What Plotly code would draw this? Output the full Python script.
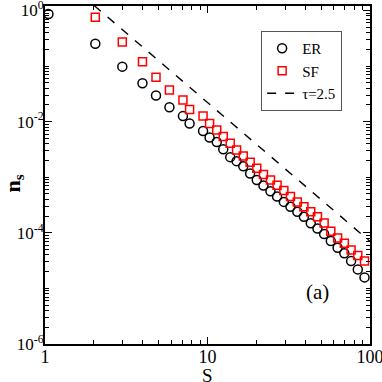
import plotly.graph_objects as go

# cluster sizes (log-binned centres)
s_er = [1.05, 2.04, 2.99, 3.98, 4.82, 5.83, 7.06, 7.76, 9.39, 10.3, 11.4, 12.5, 13.8, 15.1,
        16.6, 18.3, 20.1, 22.1, 24.4, 26.8, 29.5, 32.4, 35.7, 39.2, 43.2, 47.5, 52.2, 57.4,
        63.2, 69.5, 76.5, 84.1, 92.5]
n_er = [0.865, 0.253, 0.0977, 0.049, 0.0295, 0.0182, 0.0126, 0.0093, 0.0068, 0.0052, 0.0043,
        0.0032, 0.0023, 0.00195, 0.00158, 0.00117, 8.9e-4, 7.1e-4, 5.6e-4, 4.5e-4, 3.6e-4,
        2.95e-4, 2.4e-4, 1.95e-4, 1.48e-4, 1.2e-4, 9.5e-5, 7.1e-5, 5.4e-5, 4.3e-5, 3.1e-5,
        2.2e-5, 1.58e-5]

s_sf = [2.04, 2.99, 3.98, 4.82, 5.83, 7.06, 7.76, 9.39, 10.3, 11.4, 12.5, 13.8, 15.1,
        16.6, 18.3, 20.1, 22.1, 24.4, 26.8, 29.5, 32.4, 35.7, 39.2, 43.2, 47.5, 52.2, 57.4,
        63.2, 69.5, 76.5, 84.1, 92.5]
n_sf = [0.76, 0.27, 0.12, 0.063, 0.037, 0.0245, 0.0166, 0.0126, 0.0093, 0.0071, 0.0054,
        0.0041, 0.0031, 0.0024, 0.00186, 0.00145, 0.00112, 8.9e-4, 7.2e-4, 5.75e-4, 4.5e-4,
        3.6e-4, 2.95e-4, 2.4e-4, 1.95e-4, 1.51e-4, 1.07e-4, 8.1e-5, 6.5e-5, 4.9e-5, 3.9e-5,
        3.1e-5]

tau_s = [2.0, 100]
tau_n = [1.24, 7.0e-5]

y_tickvals = [1, 1e-2, 1e-4, 1e-6]
y_ticktext = ["10<sup>0</sup>", "10<sup>-2</sup>", "10<sup>-4</sup>", "10<sup>-6</sup>"]
x_tickvals = [1, 10, 100]
x_ticktext = ["1", "10", "100"]

FONT = "Liberation Serif"

fig = go.Figure()
fig.add_trace(go.Scatter(x=s_er, y=n_er, mode="markers", name="ER",
                         marker=dict(symbol="circle-open", size=9, color="black",
                                     line=dict(width=1.5, color="black"))))
fig.add_trace(go.Scatter(x=s_sf, y=n_sf, mode="markers", name="SF",
                         marker=dict(symbol="square-open", size=8, color="red",
                                     line=dict(width=1.5, color="red"))))
fig.add_trace(go.Scatter(x=tau_s, y=tau_n, mode="lines", name="\u03c4=2.5",
                         line=dict(color="black", width=1.4, dash="dash")))

axis_common = dict(showline=True, linecolor="black", linewidth=1.8, mirror="ticks",
                   ticks="inside", ticklen=7, tickwidth=1.2, tickcolor="black",
                   showgrid=False, zeroline=False, automargin=False,
                   ticklabeloverflow="allow")

fig.update_xaxes(type="log", range=[0, 2], tickvals=x_tickvals, ticktext=x_ticktext,
                 minor=dict(dtick="D1", ticks="inside", ticklen=4, tickcolor="black",
                            tickwidth=1, showgrid=False),
                 tickfont=dict(family=FONT, size=18, color="black"),
                 ticklabelstandoff=-5,
                 **axis_common)
fig.update_yaxes(type="log", range=[-6, 0.081], tickvals=y_tickvals, ticktext=y_ticktext,
                 minor=dict(dtick="D1", ticks="inside", ticklen=4, tickcolor="black",
                            tickwidth=1, showgrid=False),
                 tickfont=dict(family=FONT, size=17, color="black"),
                 ticklabelstandoff=-4,
                 **axis_common)

fig.add_annotation(text="S", x=0.5, y=-0.092, xref="paper", yref="paper",
                   xanchor="center", yanchor="middle", showarrow=False,
                   font=dict(family=FONT, size=19, color="black"))
fig.add_annotation(text="<b>n<sub>s</sub></b>", x=-0.095, y=0.475, xref="paper", yref="paper",
                   xanchor="center", yanchor="middle", showarrow=False, textangle=-90,
                   font=dict(family=FONT, size=22, color="black"))
fig.add_annotation(text="(a)", x=0.838, y=0.155, xref="paper", yref="paper",
                   xanchor="center", yanchor="middle",
                   showarrow=False, font=dict(family=FONT, size=21, color="black"))

fig.update_layout(width=382, height=382, margin=dict(l=45, r=12, t=6, b=38),
                  plot_bgcolor="white", paper_bgcolor="white",
                  legend=dict(x=0.665, y=0.926, xanchor="left", yanchor="top",
                              bordercolor="#555555", borderwidth=1, bgcolor="white",
                              font=dict(family=FONT, size=15, color="black"),
                              itemwidth=30, tracegroupgap=0))

fig.write_html("out.html", config={"displayModeBar": False},
               post_script="document.body.style.margin='0';document.body.style.overflow='hidden';")
